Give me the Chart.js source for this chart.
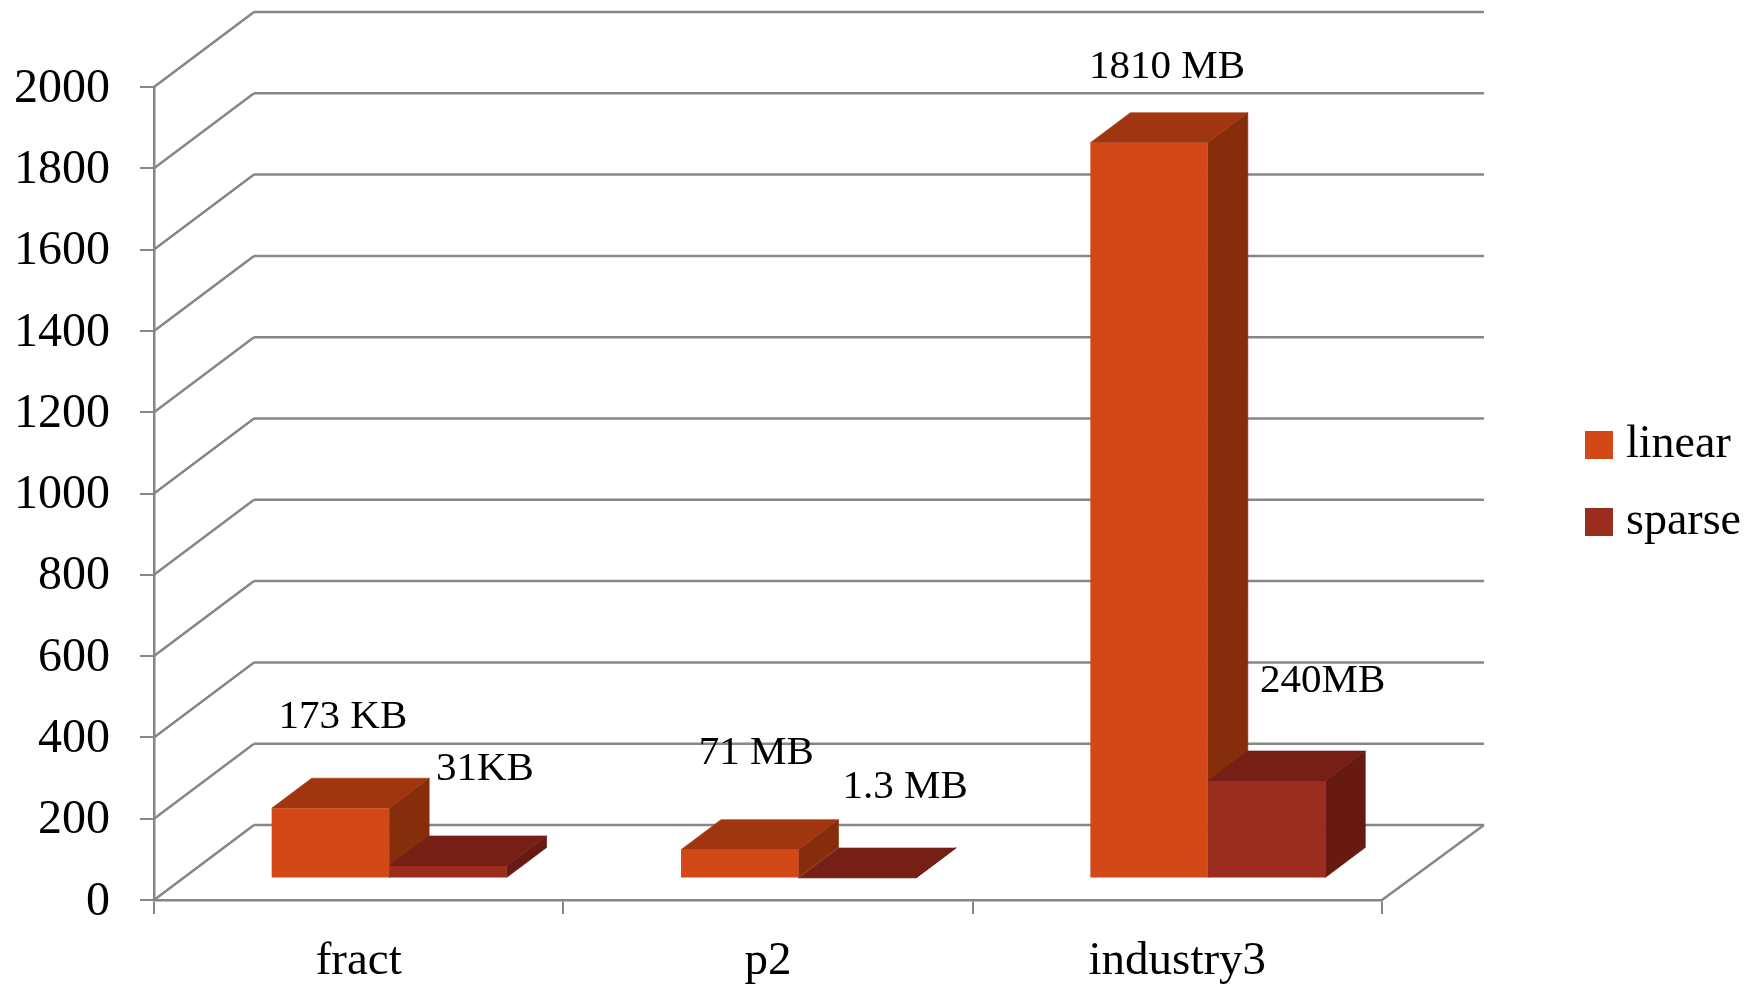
<!DOCTYPE html>
<html>
<head>
<meta charset="utf-8">
<title>linear vs sparse</title>
<script src="https://cdn.jsdelivr.net/npm/chart.js@4/dist/chart.umd.min.js"></script>
<style>
  html, body { margin: 0; padding: 0; background: #fff; }
  canvas { display: block; }
</style>
</head>
<body>
<canvas id="barChart3d" width="1762" height="987"></canvas>
<script>
const categories = ['fract', 'p2', 'industry3'];
const seriesNames = ['linear', 'sparse'];
const linearValues = [173, 71, 1810];
const sparseValues = [31, 1.3, 240];
const linearNotes = ['173 KB', '71 MB', '1810 MB'];
const sparseNotes = ['31KB', '1.3 MB', '240MB'];
const yTicks = [0, 200, 400, 600, 800, 1000, 1200, 1400, 1600, 1800, 2000];

const serif = '"Liberation Serif", serif';
const gridColor = '#868686';

// front colour, top face, side face
const linearFaces = ['#D34817', '#A0360F', '#862D0C'];
const sparseFaces = ['#9B2D1F', '#761F15', '#671A11'];

// depth of the box the bars stand in, and of the bars themselves
const wall = { dx: 100, dy: -75, rightDx: 102 };
const barDepth = { dx: 40, dy: -30 };
// bars stand on a plane inside the box, not on the front edge
const barShift = { x: 30.5, y: -21.5 };

// [x, baseline] relative to the bar's centre and to the top of the bar
const linearNoteOffsets = [[12.5, -80], [16.5, -86], [18, -65]];
const sparseNoteOffsets = [[37, -86], [48, -80], [56, -89]];

function poly(ctx, color, pts) {
  ctx.fillStyle = color;
  ctx.strokeStyle = color;
  ctx.lineWidth = 0.6; // closes the seam between neighbouring faces
  ctx.beginPath();
  pts.forEach((p, i) => (i ? ctx.lineTo(p[0], p[1]) : ctx.moveTo(p[0], p[1])));
  ctx.closePath();
  ctx.fill();
  ctx.stroke();
}

function line(ctx, x1, y1, x2, y2) {
  ctx.beginPath();
  ctx.moveTo(x1, y1);
  ctx.lineTo(x2, y2);
  ctx.stroke();
}

const box3d = {
  id: 'box3d',
  beforeDatasetsDraw(chart) {
    const { ctx, scales: { x, y } } = chart;

    // back wall, left wall and floor
    ctx.save();
    ctx.strokeStyle = gridColor;
    ctx.lineWidth = 2.5;
    yTicks.forEach(v => {
      const py = y.getPixelForValue(v);
      line(ctx, x.left, py, x.left + wall.dx, py + wall.dy);
      line(ctx, x.left + wall.dx, py + wall.dy, x.right + wall.rightDx, py + wall.dy);
    });
    line(ctx, x.right, y.bottom, x.right + wall.rightDx, y.bottom + wall.dy);
    ctx.restore();

    // top and side faces go under the fronts the library draws next
    ctx.save();
    ctx.translate(barShift.x, barShift.y);
    [linearFaces, sparseFaces].forEach((faces, i) => {
      chart.getDatasetMeta(i).data.forEach(bar => {
        const l = bar.x - bar.width / 2;
        const r = bar.x + bar.width / 2;
        const d = barDepth;
        poly(ctx, faces[2], [[r, bar.y], [r + d.dx, bar.y + d.dy], [r + d.dx, bar.base + d.dy], [r, bar.base]]);
        poly(ctx, faces[1], [[l, bar.y], [l + d.dx, bar.y + d.dy], [r + d.dx, bar.y + d.dy], [r, bar.y]]);
      });
    });
  },
  afterDatasetsDraw(chart) {
    chart.ctx.restore();
  },
  afterDraw(chart) {
    const { ctx } = chart;
    ctx.save();
    ctx.fillStyle = '#000';
    ctx.textBaseline = 'alphabetic';

    // notes next to the bars
    ctx.font = '41px ' + serif;
    ctx.textAlign = 'center';
    [[linearNotes, linearNoteOffsets], [sparseNotes, sparseNoteOffsets]].forEach((set, i) => {
      chart.getDatasetMeta(i).data.forEach((bar, j) => {
        const off = set[1][j];
        ctx.fillText(set[0][j], bar.x + barShift.x + off[0], bar.y + barShift.y + off[1]);
      });
    });

    // legend
    ctx.font = '46px ' + serif;
    ctx.textAlign = 'left';
    chart.data.datasets.forEach((ds, i) => {
      const top = 431 + i * 77;
      ctx.fillStyle = ds.backgroundColor;
      ctx.fillRect(1585, top, 28, 28);
      ctx.fillStyle = '#000';
      ctx.fillText(ds.label, 1626, top + 26);
    });
    ctx.restore();
  }
};

const config = {
  type: 'bar',
  data: {
    labels: categories,
    datasets: [{
      label: seriesNames[0],
      data: linearValues,
      backgroundColor: linearFaces[0],
      borderWidth: 0,
      clip: false
    }, {
      label: seriesNames[1],
      data: sparseValues,
      backgroundColor: sparseFaces[0],
      borderWidth: 0,
      clip: false
    }]
  },
  options: {
    responsive: false,
    animation: false,
    barPercentage: 1,
    categoryPercentage: 0.574,
    layout: {
      padding: { top: 87, right: 380, bottom: 0, left: 0 }
    },
    scales: {
      x: {
        afterFit: scale => { scale.height = 87; },
        border: { color: gridColor, width: 2.5 },
        grid: { drawOnChartArea: false, color: gridColor, lineWidth: 2, tickLength: 14 },
        ticks: {
          color: '#000',
          padding: 19,
          font: { family: serif, size: 47 }
        }
      },
      y: {
        min: 0,
        max: 2000,
        afterFit: scale => { scale.width = 154; },
        border: { color: gridColor, width: 2.5 },
        grid: { drawOnChartArea: false, color: gridColor, lineWidth: 2, tickLength: 14 },
        ticks: {
          stepSize: 200,
          callback: v => String(v),
          color: '#000',
          padding: 30,
          labelOffset: 2,
          font: { family: serif, size: 48 }
        }
      }
    },
    plugins: {
      legend: { display: false },
      title: { display: false },
      tooltip: { enabled: false }
    }
  },
  plugins: [box3d]
};

const myChart = new Chart(document.getElementById('barChart3d'), config);
</script>
</body>
</html>
